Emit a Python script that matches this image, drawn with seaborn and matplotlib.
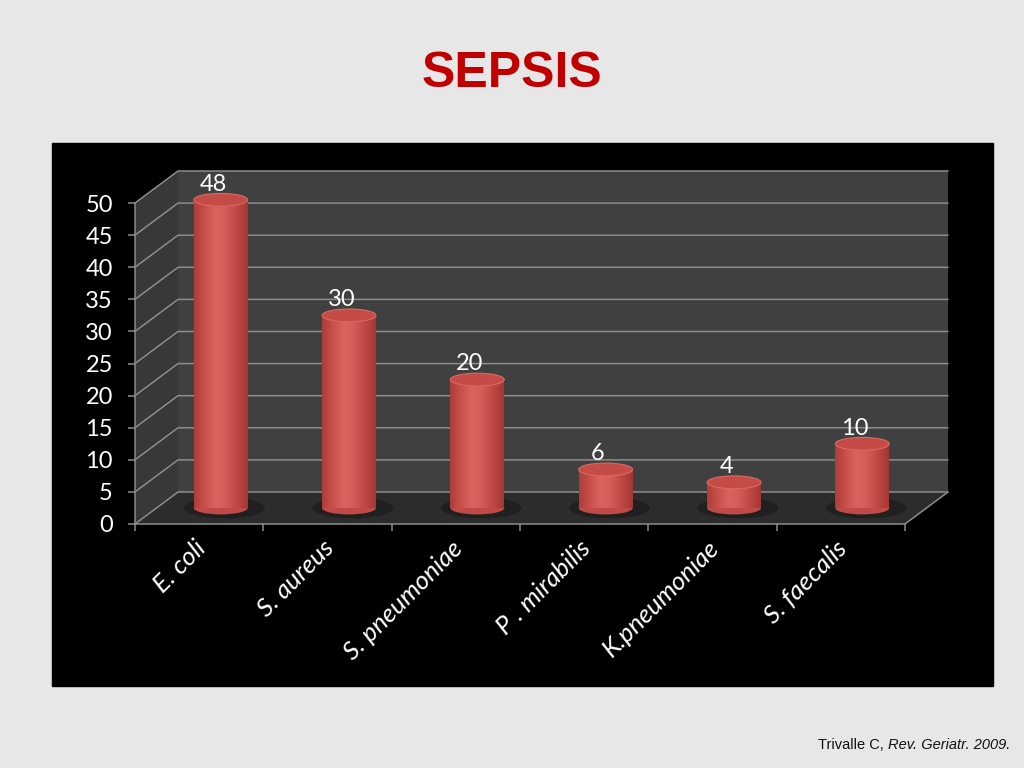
import numpy as np
import matplotlib
matplotlib.use("Agg")
import matplotlib.pyplot as plt
from matplotlib.patches import Rectangle, Polygon, Ellipse
from matplotlib.colors import LinearSegmentedColormap
import matplotlib.transforms as mtransforms
import seaborn as sns

# data
categories = ['E. coli', 'S. aureus', 'S. pneumoniae', 'P . mirabilis', 'K.pneumoniae', 'S. faecalis']
values = [48, 30, 20, 6, 4, 10]
y_ticks = list(range(0, 55, 5))

sns.set_style("white")
plt.rcParams['font.family'] = ['Lato', 'DejaVu Sans']

fig = plt.figure(figsize=(10.24, 7.68), dpi=100)
fig.patch.set_facecolor('#e7e7e7')

# black panel behind the chart
fig.patches.append(Rectangle((52 / 1024, 82 / 768), 941 / 1024, 543 / 768,
                             transform=fig.transFigure, color='black', zorder=-5))

# front plane of the fake 3d chart
ax = fig.add_axes([135 / 1024, 244 / 768, 770 / 1024, 321 / 768])
ax.set_zorder(1)
ax.patch.set_visible(False)
x0, x1 = -0.5, len(categories) - 0.5
ax.set_xlim(x0, x1)
ax.set_ylim(0, 50)

# depth offset (43px right, 32px up) in data units
dx = 43 / (770 / len(categories))
dy = 32 / (321 / 50)

grid_c = '#8c8c8c'
# side wall, floor, back wall
ax.add_patch(Polygon([(x0, 0), (x0, 50), (x0 + dx, 50 + dy), (x0 + dx, dy)],
                     closed=True, fc='#383838', ec='none', zorder=0.5, clip_on=False))
ax.add_patch(Polygon([(x0, 0), (x1, 0), (x1 + dx, dy), (x0 + dx, dy)],
                     closed=True, fc='#2c2c2c', ec='none', zorder=0.6, clip_on=False))
ax.add_patch(Rectangle((x0 + dx, dy), x1 - x0, 50, fc='#404040', ec='none',
                       zorder=0.5, clip_on=False))
for t in y_ticks:
    ax.plot([x0, x0 + dx, x1 + dx], [t, t + dy, t + dy], color=grid_c, lw=1.1,
            zorder=0.8, clip_on=False)
ax.plot([x1, x1 + dx], [0, dy], color=grid_c, lw=1.1, zorder=0.8, clip_on=False)

# bars
sns.barplot(x=categories, y=values, width=0.42, color='#c9514c', ax=ax, zorder=3,
            edgecolor='none', linewidth=0)
ax.set_xlim(x0, x1)
ax.set_ylim(0, 50)

cyl = LinearSegmentedColormap.from_list('cyl', ['#ad3e3a', '#c9504b', '#d9645e',
                                               '#d35c56', '#c04843', '#a43733'])
grad = np.linspace(0, 1, 64).reshape(1, -1)
ell_h = 2.0
for p, v in zip(ax.patches[len(ax.patches) - len(values):], values):
    p.set_x(p.get_x() + dx / 2)
    p.set_y(dy / 2)
    p.set_clip_on(False)
    bx, bw = p.get_x(), p.get_width()
    cx = bx + bw / 2
    top = dy / 2 + v
    # shadow and bottom cap
    ax.add_patch(Ellipse((cx + 0.03, dy / 2), bw * 1.5, ell_h * 1.6, fc='#151515',
                         alpha=0.5, ec='none', zorder=2.5, clip_on=False))
    ax.add_patch(Ellipse((cx, dy / 2), bw, ell_h, fc='#c04a46', ec='none',
                         zorder=2.9, clip_on=False))
    im = ax.imshow(grad, extent=[bx, bx + bw, dy / 2, top], aspect='auto', cmap=cyl,
                   zorder=3.1, interpolation='bicubic')
    im.set_clip_box(fig.bbox)
    im.set_clip_path(p)
    ax.add_patch(Ellipse((cx, top), bw, ell_h, fc='#c44b46', ec='#d96a63', lw=0.8,
                         zorder=4, clip_on=False))
    ax.text(cx - 0.06, top + 0.8, str(v), ha='center', va='bottom', color='white',
            fontsize=17, zorder=5)

ax.set_xlim(x0, x1)
ax.set_ylim(0, 50)

# axes styling
for s in ['top', 'right']:
    ax.spines[s].set_visible(False)
for s in ['left', 'bottom']:
    ax.spines[s].set_color(grid_c)
    ax.spines[s].set_linewidth(1.1)
    ax.spines[s].set_zorder(1)
ax.set_yticks(y_ticks)
ax.set_yticklabels([str(t) for t in y_ticks])
ax.tick_params(axis='y', colors=grid_c, labelcolor='white', labelsize=17,
               length=5, width=1.1, pad=11, direction='out', left=True)
ax.set_xticks(range(len(categories)))
ax.set_xticklabels(categories, rotation=45, ha='right', rotation_mode='anchor',
                   fontstyle='italic', fontsize=18.5, color='white')
ax.tick_params(axis='x', length=0, pad=9)
shift = mtransforms.ScaledTranslation(-4 / 72, 0, fig.dpi_scale_trans)
for lab in ax.get_xticklabels():
    lab.set_transform(lab.get_transform() + shift)
ax.set_xticks(np.arange(x0, x1 + 0.01, 1), minor=True)
ax.tick_params(axis='x', which='minor', length=5, width=1.1, color=grid_c,
               direction='out', bottom=True)
ax.set_xlabel('')
ax.set_ylabel('')

# title and source
fig.text(0.5, 1 - 74 / 768, 'SEPSIS', ha='center', va='center', color='#c00000',
         fontsize=36, fontweight='bold', family=['Liberation Sans', 'DejaVu Sans'])
src = fig.text(1010 / 1024, 1 - 752 / 768, 'Rev. Geriatr. 2009.', ha='right',
               va='bottom', fontsize=10.5, fontstyle='italic', color='#111111',
               family=['Liberation Sans', 'DejaVu Sans'])
ax.annotate('Trivalle C, ', xy=(0, 0), xycoords=src, ha='right', va='bottom',
            fontsize=10.5, color='#111111', family=['Liberation Sans', 'DejaVu Sans'],
            annotation_clip=False)

fig.savefig('out.png', dpi=100, facecolor=fig.get_facecolor())
